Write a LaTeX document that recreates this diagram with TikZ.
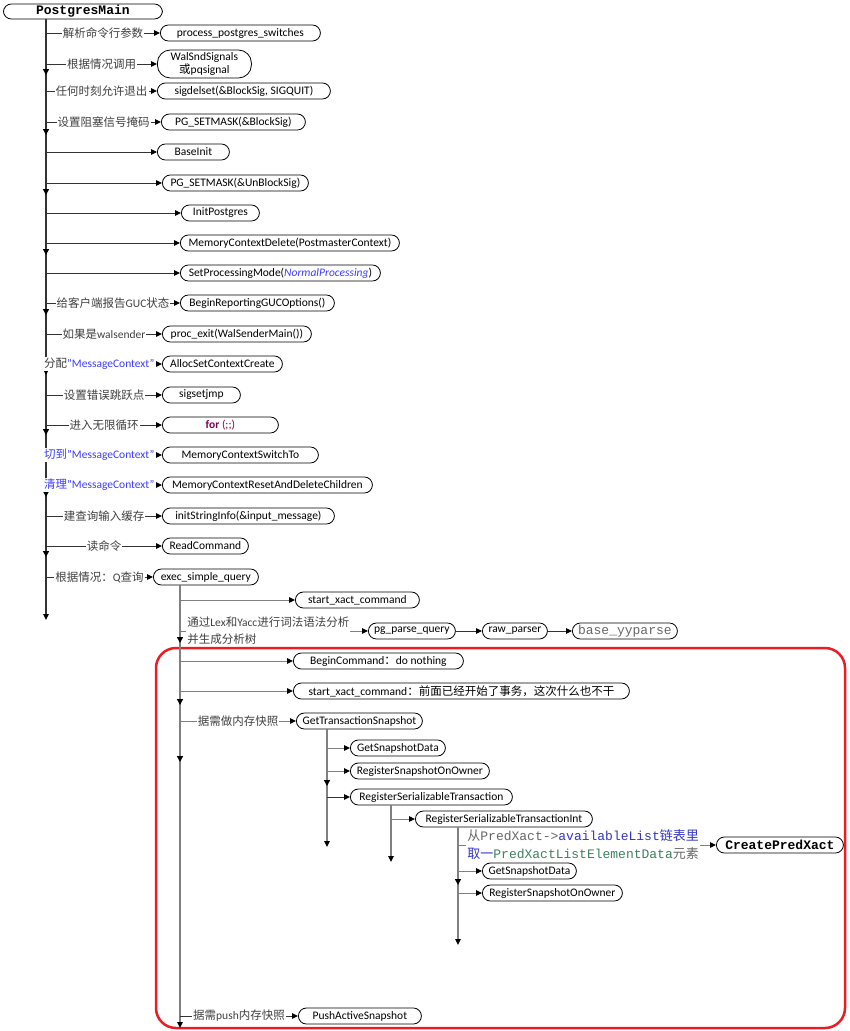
\documentclass[tikz,border=0pt]{standalone}
\usepackage{fontspec}
\setmainfont{Carlito}
\setmonofont{Liberation Mono}
\newfontfamily\cjk{Noto Sans CJK SC}
\usetikzlibrary{arrows.meta, decorations.markings}
\definecolor{labgray}{HTML}{404040}
\definecolor{ctxblue}{HTML}{3C3CFF}
\definecolor{codeblue}{HTML}{3434C4}
\definecolor{codegreen}{HTML}{3F7F5F}
\definecolor{kwpurple}{HTML}{7F0055}
\definecolor{boxred}{HTML}{EC1C24}
\newcommand\latn[1]{{\rmfamily\fontsize{11.5}{13}\selectfont #1}}
\newcommand\zh[1]{{\cjk\fontsize{11.5}{13}\selectfont #1}}

\begin{document}
\begin{tikzpicture}[x=1pt, y=-1pt,
    fn/.style={draw, line width=0.8pt, rounded corners=8pt, anchor=west,
               minimum height=16pt, inner xsep=4pt, inner ysep=1pt,
               font=\fontsize{11.5}{13}\selectfont},
    lab/.style={fill=white, inner sep=1pt, text=labgray,
                font=\cjk\fontsize{11.5}{17}\selectfont},
    br/.style={draw=black!80, line width=1pt,
               -{Triangle[length=6pt,width=5.5pt,color=black]}},
    trunk/.style={br, line width=1.3pt},
    soft/.style={draw=black!50},
    midtip/.style={postaction={decorate, decoration={markings,
        mark=at position #1 with {\arrow{Triangle[length=6pt,width=6pt,color=black]}}}}}]
    \useasboundingbox (0,0) rectangle (850,1031);
    \draw[boxred, line width=2.5pt, rounded corners=20pt] (156,648) rectangle (845,1028);

    % main loop of PostgresMain
    \node[fn, minimum width=159pt, minimum height=15pt,
          font=\ttfamily\bfseries\fontsize{13}{15}\selectfont] (pm) at (3,11.5) {PostgresMain};
    \coordinate (tr1) at (46,19);
    \coordinate (tr1end) at (46,620);
    \draw[trunk, midtip=56pt, midtip=116pt, midtip=176pt, midtip=236pt, midtip=296pt,
          midtip=356pt, midtip=416pt, midtip=478pt, midtip=538pt] (tr1) -- (tr1end);

    \node[fn, minimum width=160pt] (pps) at (160,33) {process\_postgres\_switches};
    \node[fn, minimum width=94pt, minimum height=28pt, rounded corners=13pt, align=center,
          font=\fontsize{11.5}{12.5}\selectfont] (wss) at (157,64) {WalSndSignals\\\zh{或}pqsignal};
    \node[fn, minimum width=173pt] (sds) at (157,91) {sigdelset(\&BlockSig, SIGQUIT)};
    \node[fn, minimum width=144pt] (psb) at (161,122) {PG\_SETMASK(\&BlockSig)};
    \node[fn, minimum width=72pt] (bi) at (157,152) {BaseInit};
    \node[fn, minimum width=146pt] (psu) at (162,183) {PG\_SETMASK(\&UnBlockSig)};
    \node[fn, minimum width=78pt] (ip) at (181,213) {InitPostgres};
    \node[fn, minimum width=219pt] (mcd) at (180,243) {MemoryContextDelete(PostmasterContext)};
    \node[fn, minimum width=200pt] (spm) at (180,273) {SetProcessingMode(\textcolor{ctxblue}{\itshape NormalProcessing})};
    \node[fn, minimum width=154pt] (brg) at (180,303) {BeginReportingGUCOptions()};
    \node[fn, minimum width=149pt] (pex) at (162,334) {proc\_exit(WalSenderMain())};
    \node[fn, minimum width=120pt] (ascc) at (162,364) {AllocSetContextCreate};
    \node[fn, minimum width=78pt] (ssj) at (162,395) {sigsetjmp};
    \node[fn, minimum width=116pt] (forl) at (162,425) {\textcolor{kwpurple}{\bfseries for} \textcolor{kwpurple}{(;;)}};
    \node[fn, minimum width=156pt] (mcst) at (162,455) {MemoryContextSwitchTo};
    \node[fn, minimum width=210pt] (mcrd) at (162,485) {MemoryContextResetAndDeleteChildren};
    \node[fn, minimum width=172pt] (isi) at (162,516) {initStringInfo(\&input\_message)};
    \node[fn, minimum width=86pt] (rc) at (162,546) {ReadCommand};
    \node[fn, minimum width=105pt] (esq) at (153,577) {exec\_simple\_query};

    \draw[br] (tr1 |- pps) -- node[lab] {解析命令行参数} (pps);
    \draw[br] (tr1 |- wss) -- node[lab] {根据情况调用} (wss);
    \draw[br] (tr1 |- sds) -- node[lab] {任何时刻允许退出} (sds);
    \draw[br] (tr1 |- psb) -- node[lab] {设置阻塞信号掩码} (psb);
    \draw[br] (tr1 |- bi) -- (bi);
    \draw[br] (tr1 |- psu) -- (psu);
    \draw[br] (tr1 |- ip) -- (ip);
    \draw[br] (tr1 |- mcd) -- (mcd);
    \draw[br] (tr1 |- spm) -- (spm);
    \draw[br] (tr1 |- brg) -- node[lab] {给客户端报告\latn{GUC}状态} (brg);
    \draw[br] (tr1 |- pex) -- node[lab] {如果是\latn{walsender}} (pex);
    \draw[br] (tr1 |- ascc) -- node[lab, pos=0.46] {分配\textcolor{ctxblue}{\latn{"MessageContext"}}} (ascc);
    \draw[br] (tr1 |- ssj) -- node[lab] {设置错误跳跃点} (ssj);
    \draw[br] (tr1 |- forl) -- node[lab] {进入无限循环} (forl);
    \draw[br] (tr1 |- mcst) -- node[lab, text=ctxblue, pos=0.46] {切到\latn{"MessageContext"}} (mcst);
    \draw[br] (tr1 |- mcrd) -- node[lab, text=ctxblue, pos=0.46] {清理\latn{"MessageContext"}} (mcrd);
    \draw[br] (tr1 |- isi) -- node[lab] {建查询输入缓存} (isi);
    \draw[br] (tr1 |- rc) -- node[lab] {读命令} (rc);
    \draw[br] (tr1 |- esq) -- node[lab] {根据情况：\latn{Q}查询} (esq);

    % exec_simple_query
    \coordinate (tr2) at (180,585);
    \coordinate (tr2end) at (180,1028);
    \draw[trunk, soft, midtip=58pt, midtip=120pt, midtip=177pt] (tr2) -- (tr2end);

    \node[fn, minimum width=124pt] (sxc) at (295,600) {start\_xact\_command};
    \node[fn, minimum width=87pt] (ppq) at (368,631) {pg\_parse\_query};
    \node[fn, minimum width=65pt] (rp) at (482,631) {raw\_parser};
    \node[fn, minimum width=105pt, text=black!60,
          font=\ttfamily\fontsize{13}{15}\selectfont] (byp) at (572,631) {base\_yyparse};
    \node[fn, minimum width=170pt] (bc) at (293,661) {BeginCommand\zh{：}do nothing};
    \node[fn, minimum width=336pt] (sxc2) at (293,691) {start\_xact\_command\zh{：前面已经开始了事务，这次什么也不干}};
    \node[fn, minimum width=126pt] (gts) at (296,721) {GetTransactionSnapshot};
    \node[fn, minimum width=123pt] (pas) at (298,1016) {PushActiveSnapshot};

    \draw[br, soft] (tr2 |- sxc) -- (sxc);
    \draw[br, soft] (tr2 |- ppq) -- node[lab, align=left, pos=0.47]
        {通过\latn{Lex}和\latn{Yacc}进行词法语法分析\\并生成分析树} (ppq);
    \draw[br] (ppq) -- (rp);
    \draw[br] (rp) -- (byp);
    \draw[br, soft] (tr2 |- bc) -- (bc);
    \draw[br, soft] (tr2 |- sxc2) -- (sxc2);
    \draw[br, soft] (tr2 |- gts) -- node[lab] {据需做内存快照} (gts);
    \draw[br] (tr2 |- pas) -- node[lab] {据需\latn{push}内存快照} (pas);

    % GetTransactionSnapshot
    \coordinate (tr3) at (327,729);
    \coordinate (tr3end) at (327,847);
    \draw[trunk, soft, midtip=57pt] (tr3) -- (tr3end);
    \node[fn, minimum width=95pt] (gsd) at (350,748) {GetSnapshotData};
    \node[fn, minimum width=139pt] (rsoo) at (350,771) {RegisterSnapshotOnOwner};
    \node[fn, minimum width=162pt] (rst) at (350,797) {RegisterSerializableTransaction};
    \draw[br, soft] (tr3 |- gsd) -- (gsd);
    \draw[br, soft] (tr3 |- rsoo) -- (rsoo);
    \draw[br] (tr3 |- rst) -- (rst);

    % RegisterSerializableTransaction
    \coordinate (tr4) at (391,805);
    \coordinate (tr4end) at (391,862);
    \draw[trunk, soft] (tr4) -- (tr4end);
    \node[fn, minimum width=177pt] (rsti) at (415,819) {RegisterSerializableTransactionInt};
    \draw[br, soft] (tr4 |- rsti) -- (rsti);

    % RegisterSerializableTransactionInt
    \coordinate (tr5) at (458,827);
    \coordinate (tr5end) at (458,945);
    \draw[trunk, soft, midtip=58pt] (tr5) -- (tr5end);
    \node[fn, minimum width=127pt,
          font=\ttfamily\bfseries\fontsize{13}{15}\selectfont] (cpx) at (716,845) {CreatePredXact};
    \node[fn, minimum width=94pt] (gsd2) at (482,871) {GetSnapshotData};
    \node[fn, minimum width=140pt] (rsoo2) at (482,893) {RegisterSnapshotOnOwner};
    \draw[br, soft] (tr5 |- cpx) -- node[lab, align=left, text=black!60, pos=0.485,
          font=\cjk\fontsize{13}{18}\selectfont]
        {从\texttt{PredXact->}\textcolor{codeblue}{\texttt{availableList}链表里}\\
         \textcolor{codeblue}{取一}\textcolor{codegreen}{\texttt{PredXactListElementData}}元素} (cpx);
    \draw[br, soft] (tr5 |- gsd2) -- (gsd2);
    \draw[br, soft] (tr5 |- rsoo2) -- (rsoo2);
\end{tikzpicture}
\end{document}
